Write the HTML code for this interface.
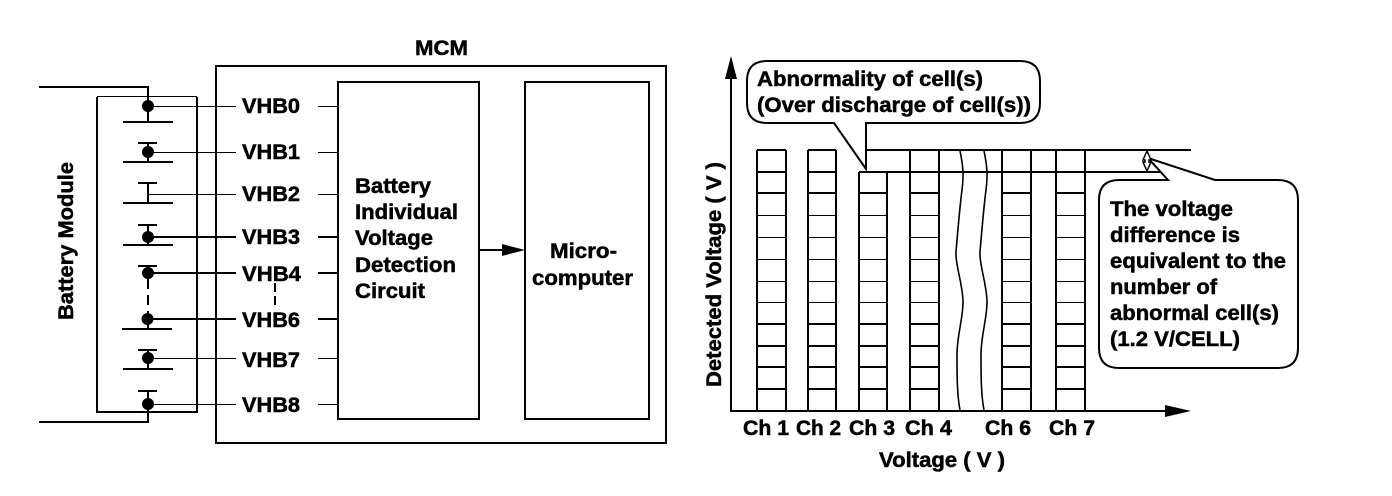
<!DOCTYPE html>
<html><head><meta charset="utf-8"><style>
html,body{margin:0;padding:0;background:#fff}
svg{display:block}
text{font-family:"Liberation Sans",Arial,sans-serif;font-weight:bold;font-size:21px;fill:#000;stroke:#000;stroke-width:.5}
</style></head><body>
<svg width="1392" height="496" viewBox="0 0 1392 496" xmlns="http://www.w3.org/2000/svg">
<rect width="1392" height="496" fill="#fff"/>
<g fill="none" stroke="#000" stroke-width="2" shape-rendering="crispEdges">
<path d="M39 87H148V122"/>
<path d="M97 97V412H197V97"/>
<path d="M39 422H148V391"/>
<rect x="216" y="66" width="450" height="377"/>
<rect x="338" y="82" width="141" height="337"/>
<rect x="525" y="82" width="124" height="337"/>
<path d="M123 122H173M138 143H157M123 162H173M138 183H157M123 203H173M138 225H157M123 245H173M138 266H157M122 329H172M138 350H157M123 369H173M138 391H157"/>
<path d="M148 143V162M148 183V203M148 225V245M148 266V273M148 319V329M148 350V369M148 391V404"/>
<path d="M148 279V319" stroke-dasharray="10 6"/>
<path d="M275 283V309" stroke-dasharray="9 4"/>
<path d="M148 237H236M148 273H236M148 319H236"/>
<path d="M318 237H338M318 273H338M318 319H338"/>
<path d="M479 250H505"/>
<path d="M731 75V411H1170"/>
<path d="M757 150V411M786 150V411M808 150V411M836 150V411M859 172V411M887 172V411M910 150V411M939 150V411M1002 150V411M1031 150V411M1056 150V411M1085 150V411"/>
<path d="M867 150H1191M859 172H1162"/>
<path d="M757 150H786M808 150H836M757 172H786M808 172H836"/>
<path d="M757 193H786M808 193H836M859 193H887M910 193H939M1002 193H1031M1056 193H1085M757 324H786M808 324H836M859 324H887M910 324H939M1002 324H1031M1056 324H1085M757 346H786M808 346H836M859 346H887M910 346H939M1002 346H1031M1056 346H1085M757 367H786M808 367H836M859 367H887M910 367H939M1002 367H1031M1056 367H1085M757 389H786M808 389H836M859 389H887M910 389H939M1002 389H1031M1056 389H1085"/>
</g>
<g fill="none" stroke="#000" stroke-width="1">
<path d="M97 96.500H197"/>
<path d="M148 106.500H236M148 152.500H236M148 194.500H236M148 358.500H236M148 404.500H236"/>
<path d="M318 106.500H338M318 152.500H338M318 194.500H338M318 358.500H338M318 404.500H338"/>
<path d="M757 215.500H786M808 215.500H836M859 215.500H887M910 215.500H939M1002 215.500H1031M1056 215.500H1085M757 237.500H786M808 237.500H836M859 237.500H887M910 237.500H939M1002 237.500H1031M1056 237.500H1085M757 259.500H786M808 259.500H836M859 259.500H887M910 259.500H939M1002 259.500H1031M1056 259.500H1085M757 281.500H786M808 281.500H836M859 281.500H887M910 281.500H939M1002 281.500H1031M1056 281.500H1085M757 302.500H786M808 302.500H836M859 302.500H887M910 302.500H939M1002 302.500H1031M1056 302.500H1085"/>
</g>
<g fill="none" stroke="#000" stroke-width="1.600">
<path d="M960 151C963 165 964 175 962 190S957 240 956 252 963 285 963 302 957 335 957 355 957 395 960 410"/>
<path d="M984 151C987 165 988 175 986 190S981 240 980 252 987 285 987 302 981 335 981 355 981 395 984 410"/>
</g>
<g fill="#000">
<circle cx="148" cy="106" r="6"/><circle cx="148" cy="152" r="6"/><circle cx="148" cy="237" r="6"/><circle cx="148" cy="273" r="6"/><circle cx="147.500" cy="319" r="6"/><circle cx="148" cy="358" r="6"/><circle cx="148" cy="404" r="6"/>
<path d="M502 244L525 250L502 256Z"/>
<path d="M731 56L737 79H725Z"/>
<path d="M1191 411L1165 405V417Z"/>
</g>
<path d="M767 61H1020Q1040 61 1040 81V103Q1040 123 1020 123H866V169L834 123H767Q747 123 747 103V81Q747 61 767 61Z" fill="none" stroke="#000" stroke-width="2"/>
<path d="M1119 180H1168L1148 158L1215 180H1278Q1298 180 1298 200V348Q1298 368 1278 368H1119Q1099 368 1099 348V200Q1099 180 1119 180Z" fill="#fff" stroke="#000" stroke-width="2"/>
<path d="M1147 151L1143 160H1145V162H1143L1147 171L1151 162H1149V160H1151Z" fill="#fff" stroke="#000" stroke-width="1.500"/>
<g>
<text x="415" y="55" textLength="53" lengthAdjust="spacingAndGlyphs">MCM</text>
<text transform="translate(73 320) rotate(-90)" textLength="158" lengthAdjust="spacingAndGlyphs">Battery Module</text>
<text x="242" y="113" textLength="58" lengthAdjust="spacingAndGlyphs">VHB0</text>
<text x="242" y="159" textLength="58" lengthAdjust="spacingAndGlyphs">VHB1</text>
<text x="242" y="201" textLength="58" lengthAdjust="spacingAndGlyphs">VHB2</text>
<text x="242" y="244" textLength="58" lengthAdjust="spacingAndGlyphs">VHB3</text>
<text x="242" y="281" textLength="59" lengthAdjust="spacingAndGlyphs">VHB4</text>
<text x="242" y="327" textLength="58" lengthAdjust="spacingAndGlyphs">VHB6</text>
<text x="242" y="367" textLength="58" lengthAdjust="spacingAndGlyphs">VHB7</text>
<text x="242" y="412" textLength="58" lengthAdjust="spacingAndGlyphs">VHB8</text>
<text x="355" y="193" textLength="76" lengthAdjust="spacingAndGlyphs">Battery</text>
<text x="355" y="219" textLength="103" lengthAdjust="spacingAndGlyphs">Individual</text>
<text x="355" y="245" textLength="78" lengthAdjust="spacingAndGlyphs">Voltage</text>
<text x="355" y="272" textLength="101" lengthAdjust="spacingAndGlyphs">Detection</text>
<text x="355" y="298" textLength="70" lengthAdjust="spacingAndGlyphs">Circuit</text>
<text x="550" y="258" textLength="67" lengthAdjust="spacingAndGlyphs">Micro-</text>
<text x="532" y="285" textLength="101" lengthAdjust="spacingAndGlyphs">computer</text>
<text x="757" y="86" textLength="226" lengthAdjust="spacingAndGlyphs">Abnormality of cell(s)</text>
<text x="757" y="112" textLength="274" lengthAdjust="spacingAndGlyphs">(Over discharge of cell(s))</text>
<text transform="translate(721 387) rotate(-90)" textLength="225" lengthAdjust="spacingAndGlyphs">Detected Voltage ( V )</text>
<text x="743" y="435" textLength="46" lengthAdjust="spacingAndGlyphs">Ch 1</text>
<text x="796" y="435" textLength="45" lengthAdjust="spacingAndGlyphs">Ch 2</text>
<text x="849" y="435" textLength="46" lengthAdjust="spacingAndGlyphs">Ch 3</text>
<text x="905" y="435" textLength="47" lengthAdjust="spacingAndGlyphs">Ch 4</text>
<text x="985" y="435" textLength="46" lengthAdjust="spacingAndGlyphs">Ch 6</text>
<text x="1049" y="435" textLength="46" lengthAdjust="spacingAndGlyphs">Ch 7</text>
<text x="879" y="467" textLength="126" lengthAdjust="spacingAndGlyphs">Voltage ( V )</text>
<text x="1110" y="216" textLength="123" lengthAdjust="spacingAndGlyphs">The voltage</text>
<text x="1110" y="242" textLength="130" lengthAdjust="spacingAndGlyphs">difference is</text>
<text x="1110" y="268" textLength="176" lengthAdjust="spacingAndGlyphs">equivalent to the</text>
<text x="1110" y="294" textLength="107" lengthAdjust="spacingAndGlyphs">number of</text>
<text x="1110" y="320" textLength="169" lengthAdjust="spacingAndGlyphs">abnormal cell(s)</text>
<text x="1110" y="346" textLength="130" lengthAdjust="spacingAndGlyphs">(1.2 V/CELL)</text>
</g>
</svg>
</body></html>
